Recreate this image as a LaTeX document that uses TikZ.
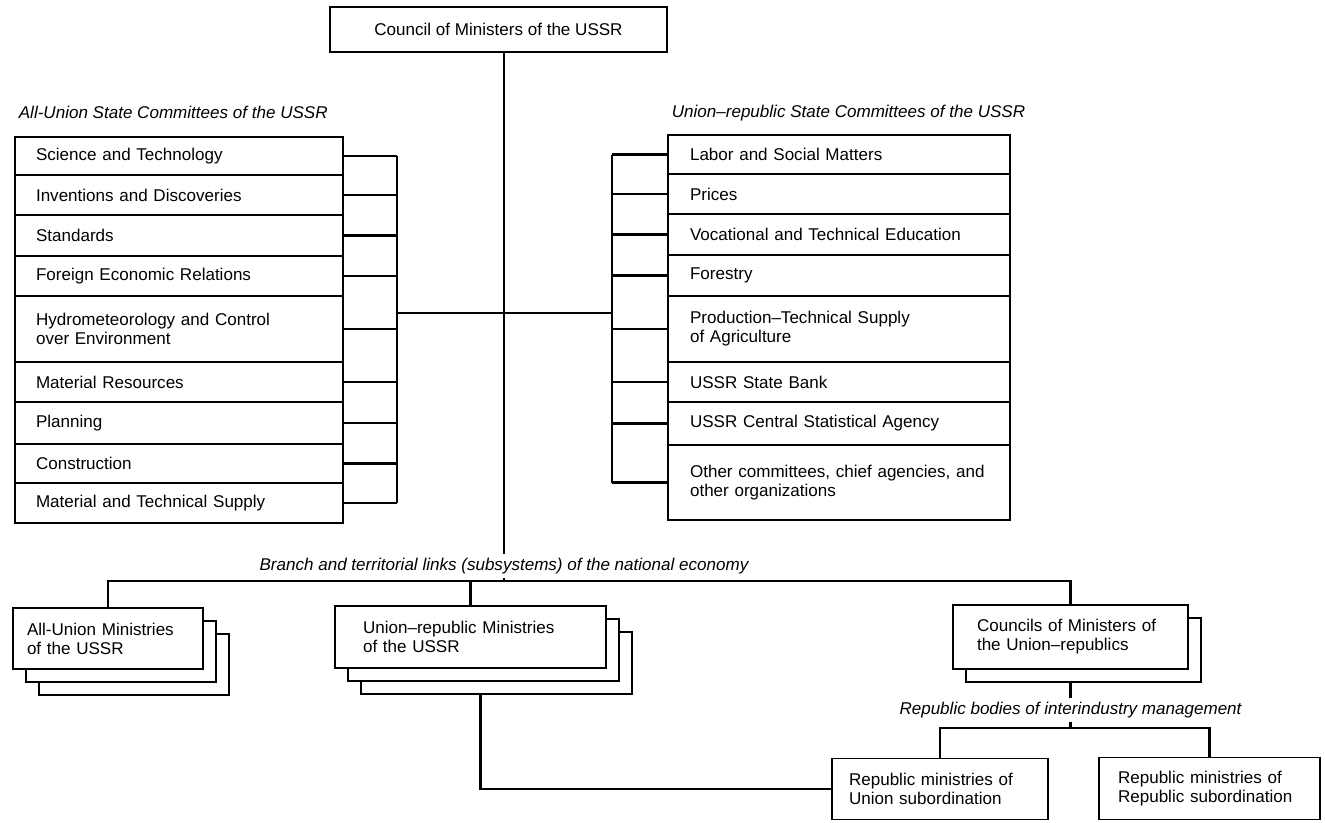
\documentclass[tikz,border=0pt]{standalone}
\usepackage{fontspec}
\setmainfont{Liberation Sans}
\usetikzlibrary{positioning, calc, shadows}
\newcommand{\chartfont}{\fontsize{9.7}{10.8}\selectfont}
\tikzset{
  orgbox/.style={
    draw,
    line width=1.1pt,
    fill=white,
    inner ysep=0pt,
    align=left,
    font=\chartfont
  },
  lrow/.style={orgbox, text width=5.72cm, inner xsep=0.42cm},
  rrow/.style={orgbox, text width=5.96cm, inner xsep=0.44cm},
  stacked/.style={
    general shadow={shadow xshift=0.52cm, shadow yshift=-0.52cm,
      fill=white, draw=black, line width=1.1pt},
    general shadow={shadow xshift=0.26cm, shadow yshift=-0.26cm,
      fill=white, draw=black, line width=1.1pt}
  },
  single stacked/.style={
    general shadow={shadow xshift=0.26cm, shadow yshift=-0.26cm,
      fill=white, draw=black, line width=1.1pt}
  },
  grouplabel/.style={font=\chartfont\itshape, inner sep=2pt},
  link/.style={line width=1.2pt}
}

\begin{document}
\begin{tikzpicture}[x=0.02cm, y=-0.02cm]
          \useasboundingbox (0,0) rectangle (1325,822);

          \node[orgbox, align=center, minimum width=6.74cm, minimum height=0.9cm] (council) at (498.5,29.5) {Council of Ministers of the USSR};

          \node[grouplabel, anchor=west] (ltitle) at (15,112) {All-Union State Committees of the USSR};
          \node[grouplabel, anchor=west] (rtitle) at (668,113) {Union–republic State Committees of the USSR};

          % all-union committees
          \node[lrow, minimum height=0.76cm] (sci) at (179,156) {Science and Technology};
          \node[lrow, minimum height=0.80cm] (inv) at (179,195) {Inventions and Discoveries};
          \node[lrow, minimum height=0.82cm] (std) at (179,235.5) {Standards};
          \node[lrow, minimum height=0.80cm] (fer) at (179,276) {Foreign Economic Relations};
          \node[lrow, minimum height=1.32cm] (hyd) at (179,329) {Hydrometeorology and Control\\over Environment};
          \node[lrow, minimum height=0.80cm] (mres) at (179,382) {Material Resources};
          \node[lrow, minimum height=0.84cm] (plan) at (179,423) {Planning};
          \node[lrow, minimum height=0.78cm] (cons) at (179,463.5) {Construction};
          \node[lrow, minimum height=0.80cm] (mts) at (179,503) {Material and Technical Supply};

          % union-republic committees
          \node[rrow, minimum height=0.78cm] (lab) at (839,154.5) {Labor and Social Matters};
          \node[rrow, minimum height=0.80cm] (pri) at (839,194) {Prices};
          \node[rrow, minimum height=0.82cm] (voc) at (839,234.5) {Vocational and Technical Education};
          \node[rrow, minimum height=0.82cm] (fst) at (839,275.5) {Forestry};
          \node[rrow, minimum height=1.32cm] (pts) at (839,329) {Production–Technical Supply\\of Agriculture};
          \node[rrow, minimum height=0.80cm] (bank) at (839,382) {USSR State Bank};
          \node[rrow, minimum height=0.86cm] (stat) at (839,423.5) {USSR Central Statistical Agency};
          \node[rrow, minimum height=1.50cm] (oth) at (839,482.5) {Other committees, chief agencies, and\\other organizations};

          \coordinate (lbus) at (397,313);
          \coordinate (rbus) at (612,313);
          \coordinate (trunk) at (504,313);

          \draw[link] (sci.east) -- (sci.east -| lbus)
                      (inv.east) -- (inv.east -| lbus)
                      (std.east) -- (std.east -| lbus)
                      (fer.east) -- (fer.east -| lbus)
                      (hyd.east) -- (hyd.east -| lbus)
                      (mres.east) -- (mres.east -| lbus)
                      (plan.east) -- (plan.east -| lbus)
                      (cons.east) -- (cons.east -| lbus)
                      (mts.east) -- (mts.east -| lbus);
          \draw[link] (lab.west) -- (lab.west -| rbus)
                      (pri.west) -- (pri.west -| rbus)
                      (voc.west) -- (voc.west -| rbus)
                      (fst.west) -- (fst.west -| rbus)
                      (pts.west) -- (pts.west -| rbus)
                      (bank.west) -- (bank.west -| rbus)
                      (stat.west) -- (stat.west -| rbus)
                      (oth.west) -- (oth.west -| rbus);
          \draw[link] (sci.east -| lbus) -- (mts.east -| lbus);
          \draw[link] (lab.west -| rbus) -- (oth.west -| rbus);
          \draw[link] (lbus) -- (rbus);

          % branch and territorial links
          \node[grouplabel] (branch) at (504,566) {Branch and territorial links (subsystems) of the national economy};
          \coordinate (bus) at (504,581);
          \draw[link] (council.south -| trunk) -- (branch.north -| trunk);
          \draw[link] (branch.south) -- (bus);

          \node[orgbox, stacked, text width=3.24cm, inner xsep=0.28cm, minimum height=1.22cm] (allu) at (108,638.5) {All-Union Ministries\\of the USSR};
          \node[orgbox, stacked, text width=4.3cm, inner xsep=0.56cm, minimum height=1.24cm] (urm) at (470.5,637) {Union–republic Ministries\\of the USSR};
          \node[orgbox, single stacked, text width=3.74cm, inner xsep=0.48cm, minimum height=1.28cm] (cmr) at (1070.5,637) {Councils of Ministers of\\the Union–republics};

          \draw[link] (allu.north) |- (bus) -| (cmr.north);
          \draw[link] (urm.north) -- (urm.north |- bus);

          % republic bodies
          \node[grouplabel] (rbl) at (1070.5,710) {Republic bodies of interindustry management};
          \coordinate (ibus) at (1070.5,728);
          \node[orgbox, text width=3.64cm, inner xsep=0.34cm, minimum height=1.22cm] (rmu) at (940,789) {Republic ministries of\\Union subordination};
          \node[orgbox, text width=3.66cm, inner xsep=0.38cm, minimum height=1.24cm] (rmr) at (1209.5,788.5) {Republic ministries of\\Republic subordination};

          \draw[link] ([yshift=-0.26cm]cmr.south) -- (rbl.north -| cmr.south);
          \draw[link] (rbl.south -| cmr.south) -- (ibus);
          \draw[link] (rmu.north) |- (ibus) -| (rmr.north);
          \draw[link] ([xshift=0.2cm, yshift=-0.52cm]urm.south) |- (rmu.west);
        \end{tikzpicture}
\end{document}
